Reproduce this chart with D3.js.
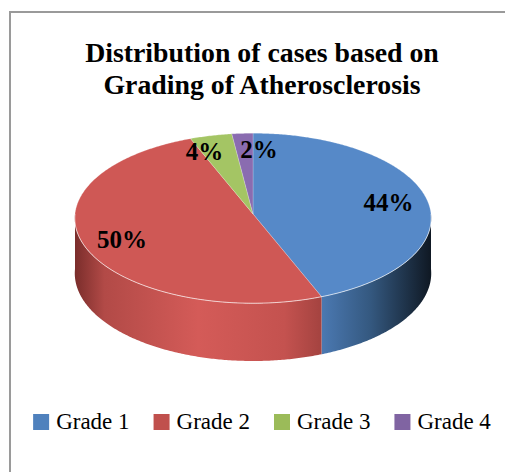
<!DOCTYPE html>
<html><head><meta charset="utf-8">
<script src="https://cdn.jsdelivr.net/npm/d3@7"></script>
<style>html,body{margin:0;padding:0;background:#fff;}svg{display:block;}
.serif{font-family:"Liberation Serif","Times New Roman",Times,serif;}</style>
</head><body>
<script>
const titleLines = ["Distribution of cases based on", "Grading of Atherosclerosis"];
const categories = ["Grade 1", "Grade 2", "Grade 3", "Grade 4"];
const values = [44, 50, 4, 2];
const valueLabels = ["44%", "50%", "4%", "2%"];
const topColors = ["#5689c8", "#cf5855", "#a4c564", "#8a6cb0"];
const legendColors = ["#4f81bd", "#c0504d", "#9bbb59", "#8064a2"];
const sideStops = [
  [["0%", "#4b79b2"], ["45%", "#34587f"], ["100%", "#0f1823"]],
  [["0%", "#7a2d2b"], ["12%", "#b24a47"], ["50%", "#d45b58"], ["85%", "#c4524f"], ["100%", "#a44340"]],
  [["0%", "#7f9a47"], ["100%", "#5f7535"]],
  [["0%", "#6a5288"], ["100%", "#4d3b63"]]
];

const W = 505, H = 472;
const svg = d3.select("body").append("svg").attr("width", W).attr("height", H);
const defs = svg.append("defs");

// frame
svg.append("path").attr("d", `M10,${H} L10,12 L${W},12`).attr("fill", "none")
  .attr("stroke", "#9a9a9a").attr("stroke-width", 2);

// title
const title = svg.append("text").attr("class", "serif").attr("x", 262).attr("text-anchor", "middle")
  .attr("font-weight", "bold").attr("font-size", 27.8).attr("fill", "#000");
titleLines.forEach((t, i) => title.append("tspan").attr("x", 262).attr("y", 62 + i * 32).text(t));

// pie geometry
const cx = 253, cy = 214, rx = 178, ry = 85, depth = 55, persp = 0.05;
function proj(theta, r = 1, z = 0) {
  const u = Math.sin(theta) * r, v = -Math.cos(theta) * r;
  const f = 1 + persp * v;
  return [cx + rx * u * f, cy + ry * v * f + z * f];
}
const pie = d3.pie().sort(null).startAngle(0).endAngle(2 * Math.PI)(values);
const line = d3.line();

function arcPts(a0, a1, z) {
  const n = Math.max(2, Math.ceil((a1 - a0) / 0.01));
  return d3.range(n + 1).map(i => proj(a0 + (a1 - a0) * i / n, 1, z));
}

// sides (front-facing part)
const sideG = svg.append("g");
pie.forEach((d, i) => {
  const a0 = Math.max(d.startAngle, Math.PI / 2), a1 = Math.min(d.endAngle, 3 * Math.PI / 2);
  if (a1 <= a0) return;
  const topPts = arcPts(a0, a1, 0);
  const botPts = arcPts(a0, a1, depth).reverse();
  const xs = topPts.map(p => p[0]);
  const x0 = d3.min(xs), x1 = d3.max(xs);
  const gid = "side" + i;
  const g = defs.append("linearGradient").attr("id", gid).attr("gradientUnits", "userSpaceOnUse")
    .attr("x1", x0).attr("x2", x1).attr("y1", 0).attr("y2", 0);
  sideStops[i].forEach(s => g.append("stop").attr("offset", s[0]).attr("stop-color", s[1]));
  sideG.append("path").attr("d", line(topPts.concat(botPts)) + "Z").attr("fill", `url(#${gid})`);
});

// top faces
const topG = svg.append("g");
pie.forEach((d, i) => {
  const pts = [proj(0, 0)].concat(arcPts(d.startAngle, d.endAngle, 0));
  topG.append("path").attr("d", line(pts) + "Z").attr("fill", topColors[i])
    .attr("stroke", "rgba(255,255,255,0.35)").attr("stroke-width", 0.6);
});
// rim highlight
svg.append("path").attr("d", line(arcPts(Math.PI * 0.5, Math.PI * 1.5, 0)))
  .attr("fill", "none").attr("stroke", "rgba(255,255,255,0.55)").attr("stroke-width", 1);

// labels
const labs = pie.map((d, i) => {
  const mid = (d.startAngle + d.endAngle) / 2;
  const small = (d.endAngle - d.startAngle) < 0.4;
  const p = proj(mid, small ? 0.8 : 0.78);
  return { i, x: p[0], y: p[1] + 9, small };
});
const lg = svg.append("g").attr("class", "serif").attr("font-weight", "bold").attr("font-size", 25);
const texts = labs.map(l => lg.append("text").attr("text-anchor", "middle").text(valueLabels[l.i]));
labs.forEach((l, k) => l.w = texts[k].node().getComputedTextLength());
// push apart overlapping small labels
const sm = labs.filter(l => l.small).sort((a, b) => a.x - b.x);
for (let k = 1; k < sm.length; k++) {
  const a = sm[k - 1], b = sm[k];
  const need = (a.w + b.w) / 2 + 17;
  const gap = b.x - a.x;
  if (gap < need) { const s = (need - gap) / 2; a.x -= s; b.x += s; }
}
labs.forEach((l, k) => texts[k].attr("x", l.x).attr("y", l.y));

// legend
const leg = svg.append("g").attr("class", "serif").attr("font-size", 23);
const items = categories.map((c, i) => {
  const g = leg.append("g");
  g.append("rect").attr("width", 16).attr("height", 16).attr("y", -15).attr("fill", legendColors[i]);
  const t = g.append("text").attr("x", 23).attr("y", 0).text(c);
  return { g, w: 23 + t.node().getComputedTextLength() };
});
const gapL = 24;
const total = d3.sum(items, d => d.w) + gapL * (items.length - 1);
let xx = 262 - total / 2;
items.forEach(it => { it.g.attr("transform", `translate(${xx},429)`); xx += it.w + gapL; });
</script>
</body></html>
